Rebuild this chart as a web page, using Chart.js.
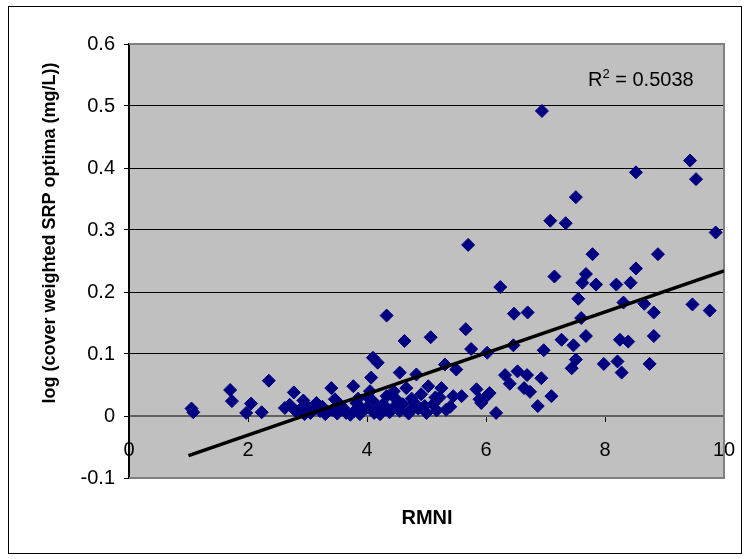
<!DOCTYPE html>
<html>
<head>
<meta charset="utf-8">
<script src="https://cdn.jsdelivr.net/npm/chart.js@4.4.0/dist/chart.umd.min.js"></script>
<style>
  html, body { margin: 0; padding: 0; background: #fff; }
</style>
</head>
<body>
<canvas id="chart-srp" width="747" height="559"></canvas>
<script>
// RMNI (x) and log cover weighted SRP optima (y)
const rmni = [
  1.05, 1.08, 1.70, 1.73, 1.97, 2.05, 2.23, 2.35, 2.62, 2.70,
  2.77, 2.80, 2.87, 2.93, 3.00, 3.05, 3.12, 3.15, 3.21, 3.30,
  3.40, 3.42, 3.46, 3.55, 3.60, 3.65, 3.72, 3.77, 3.79, 3.82,
  3.88, 3.93, 3.99, 4.02, 4.05, 4.07, 4.10, 4.10, 4.16, 4.18,
  4.22, 4.27, 4.33, 4.33, 4.38, 4.44, 4.49, 4.55, 4.60, 4.63,
  4.66, 4.70, 4.72, 4.80, 4.83, 4.86, 4.91, 4.97, 5.03, 5.07,
  5.11, 5.17, 5.22, 5.25, 5.31, 5.33, 5.45, 5.50, 5.59, 5.66,
  5.70, 5.75, 5.84, 5.89, 5.92, 6.01, 6.02, 6.06, 6.17, 6.24,
  6.32, 6.40, 6.46, 6.47, 6.53, 6.64, 6.69, 6.70, 6.74, 6.87,
  6.93, 6.94, 6.97, 7.08, 7.10, 7.15, 7.27, 7.34, 7.44, 7.47,
  7.51, 7.51, 7.55, 7.60, 7.62, 7.68, 7.68, 7.79, 7.85, 7.98,
  8.19, 8.21, 8.25, 8.28, 8.31, 8.39, 8.43, 8.52, 8.52, 8.66,
  8.75, 8.82, 8.82, 8.89, 9.43, 9.47, 9.53, 9.76, 9.86,
  2.95, 3.25, 3.50, 3.85, 4.12, 4.30, 4.45, 4.55, 4.75, 5.00,
  5.15, 5.40
];
const srp = [
  0.012, 0.006, 0.042, 0.024, 0.005, 0.020, 0.006, 0.057, 0.013, 0.018,
  0.038, 0.008, 0.010, 0.025, 0.015, 0.005, 0.012, 0.021, 0.008, 0.003,
  0.045, 0.010, 0.027, 0.018, 0.013, 0.005, 0.002, 0.048, 0.008, 0.021,
  0.003, 0.010, 0.013, 0.030, 0.040, 0.062, 0.094, 0.024, 0.008, 0.086,
  0.003, 0.019, 0.032, 0.162, 0.006, 0.013, 0.027, 0.070, 0.019, 0.121,
  0.045, 0.004, 0.008, 0.021, 0.067, 0.012, 0.035, 0.016, 0.048, 0.127,
  0.019, 0.009, 0.030, 0.045, 0.083, 0.010, 0.032, 0.075, 0.032, 0.140,
  0.276, 0.108, 0.043, 0.027, 0.021, 0.032, 0.102, 0.037, 0.005, 0.208,
  0.066, 0.052, 0.114, 0.165, 0.072, 0.045, 0.066, 0.167, 0.039, 0.016,
  0.061, 0.492, 0.106, 0.315, 0.032, 0.225, 0.123, 0.311, 0.077, 0.114,
  0.091, 0.353, 0.189, 0.158, 0.215, 0.229, 0.129, 0.261, 0.212, 0.084,
  0.212, 0.088, 0.123, 0.070, 0.183, 0.120, 0.215, 0.238, 0.393, 0.181,
  0.084, 0.129, 0.167, 0.261, 0.412, 0.180, 0.382, 0.170, 0.296,
  0.003, 0.015, 0.004, 0.028, 0.005, 0.012, 0.040, 0.008, 0.028, 0.005,
  0.030, 0.015
];

// linear trend line end points
const trendX = [1.0, 10];
const trendY = [-0.064, 0.234];

const xTickValues = [0, 2, 4, 6, 8, 10];
const yTickValues = [-0.1, 0, 0.1, 0.2, 0.3, 0.4, 0.5, 0.6];

const xTitle = "RMNI";
const yTitle = "log (cover weighted SRP optima (mg/L))";
const rSquared = "0.5038";

document.addEventListener("DOMContentLoaded", function () {
  Chart.defaults.font.family = "'Liberation Sans', Arial, sans-serif";
  Chart.defaults.color = "#000";

  const points = rmni.map((x, i) => ({ x: x, y: srp[i] }));
  const trend = trendX.map((x, i) => ({ x: x, y: trendY[i] }));

  const frame = {
    id: "frame",
    beforeDraw(chart) {
      const c = chart.ctx;
      const a = chart.chartArea;
      c.save();
      c.fillStyle = "#fff";
      c.fillRect(0, 0, chart.width, chart.height);
      c.strokeStyle = "#000";
      c.lineWidth = 1;
      c.strokeRect(8.5, 6.5, 733, 547);
      c.fillStyle = "#c0c0c0";
      c.fillRect(a.left, a.top, a.right - a.left, a.bottom - a.top);
      c.restore();
    },
    beforeDatasetsDraw(chart) {
      const c = chart.ctx;
      const a = chart.chartArea;
      c.save();
      c.strokeStyle = "#808080";
      c.lineWidth = 2;
      c.beginPath();
      c.moveTo(a.left, a.top);
      c.lineTo(a.right, a.top);
      c.lineTo(a.right, a.bottom);
      c.lineTo(a.left, a.bottom);
      c.stroke();
      c.restore();
    },
    afterDraw(chart) {
      const c = chart.ctx;
      c.save();
      c.fillStyle = "#000";
      c.textBaseline = "middle";
      c.textAlign = "center";
      c.font = "bold 20px 'Liberation Sans', Arial, sans-serif";
      c.fillText(xTitle, 427, 518);
      c.font = "bold 18px 'Liberation Sans', Arial, sans-serif";
      c.translate(50, 233);
      c.rotate(-Math.PI / 2);
      c.fillText(yTitle, 0, 0);
      c.restore();

      // R squared label
      c.save();
      c.fillStyle = "#000";
      c.textBaseline = "alphabetic";
      c.textAlign = "left";
      c.font = "20px 'Liberation Sans', Arial, sans-serif";
      let x = 588;
      c.fillText("R", x, 86);
      x += c.measureText("R").width;
      c.font = "13px 'Liberation Sans', Arial, sans-serif";
      c.fillText("2", x, 78);
      x += c.measureText("2").width;
      c.font = "20px 'Liberation Sans', Arial, sans-serif";
      c.fillText(" = " + rSquared, x, 86);
      c.restore();
    }
  };

  new Chart(document.getElementById("chart-srp").getContext("2d"), {
    type: "scatter",
    data: {
      datasets: [
        {
          label: "Linear trend",
          data: trend,
          showLine: true,
          borderColor: "#000",
          borderWidth: 3.5,
          pointRadius: 0,
          order: 0,
        },
        {
          label: "RMNI vs SRP",
          data: points,
          pointStyle: "rectRot",
          pointRadius: 6.5,
          backgroundColor: "#000080",
          borderColor: "#000080",
          borderWidth: 1,
          order: 1,
        },
      ],
    },
    options: {
      responsive: false,
      animation: false,
      devicePixelRatio: 1,
      layout: { padding: { left: 79, top: 44, right: 23, bottom: 81 } },
      plugins: { legend: { display: false }, tooltip: { enabled: false } },
      scales: {
        x: {
          type: "linear",
          min: 0,
          max: 10,
          position: { y: 0 },
          afterBuildTicks: (s) => { s.ticks = xTickValues.map((v) => ({ value: v })); },
          afterFit: (s) => {
            s.height = 0;
            s.paddingLeft = 0;
            s.paddingRight = 0;
          },
          ticks: { font: { size: 20 }, padding: 17, maxRotation: 0, autoSkip: false },
          grid: { drawOnChartArea: false, drawTicks: true, tickLength: 5, tickColor: "#000" },
          border: { color: "#606060", width: 2 },
        },
        y: {
          type: "linear",
          min: -0.1,
          max: 0.6,
          afterBuildTicks: (s) => { s.ticks = yTickValues.map((v) => ({ value: v })); },
          afterFit: (s) => {
            s.width = 50;
            s.paddingTop = 0;
            s.paddingBottom = 0;
          },
          ticks: {
            font: { size: 20 },
            padding: 9,
            callback: (v) => String(Math.round(v * 10) / 10),
          },
          grid: { color: "#000", lineWidth: 1, tickLength: 5, tickColor: "#000" },
          border: { color: "#000", width: 2 },
        },
      },
    },
    plugins: [frame],
  });
});
</script>
</body>
</html>
